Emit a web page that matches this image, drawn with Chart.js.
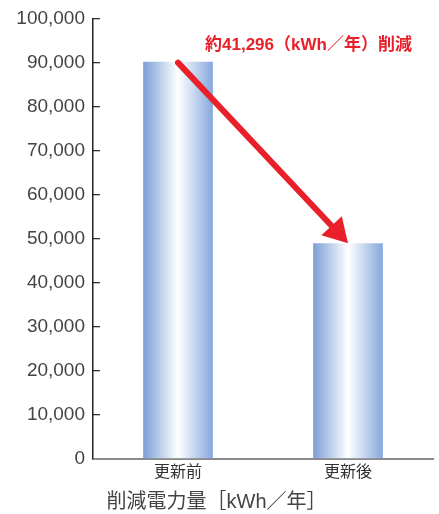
<!DOCTYPE html>
<html lang="ja">
<head>
<meta charset="utf-8">
<script src="https://cdn.jsdelivr.net/npm/chart.js@4/dist/chart.umd.min.js"></script>
<style>
    html, body { margin: 0; padding: 0; background: #fff; }
    #wrap { width: 439px; height: 514px; position: relative; }
</style>
</head>
<body>
<div id="wrap"><canvas id="savingChart"></canvas></div>
<script>
// --- Data ---
const categories = ['更新前', '更新後'];
const powerValues = [90300, 49004];     // kWh/年
const savedLabel = '約41,296（kWh／年）削減';
const axisTitle = '削減電力量［kWh／年］';
const yMax = 100000;
const yStep = 10000;

const FONT = "'Liberation Sans', 'Noto Sans CJK JP', sans-serif";
const BAR_PCT = 0.82;
const CAT_PCT = 0.5;

// bars get a horizontal blue -> white -> blue shine
function barGradient(ctx) {
    const chart = ctx.chart;
    const xScale = chart.scales.x;
    if (!xScale || ctx.dataIndex === undefined) return '#9ab6e2';
    const cx = xScale.getPixelForValue(ctx.dataIndex);
    const half = xScale.width / categories.length * BAR_PCT * CAT_PCT / 2;
    if (!isFinite(cx) || !isFinite(half) || half <= 0) return '#9ab6e2';
    const g = chart.ctx.createLinearGradient(cx - half, 0, cx + half, 0);
    g.addColorStop(0, '#7b9fd6');
    g.addColorStop(0.5, '#ffffff');
    g.addColorStop(1, '#85a8dc');
    return g;
}

// red arrow from the old value down to the new one, with the saving note
const arrowPlugin = {
    id: 'savingArrow',
    afterDatasetsDraw(chart) {
        const { ctx, scales: { x, y } } = chart;
        const x0 = x.getPixelForValue(0), y0 = y.getPixelForValue(powerValues[0]);
        const x1 = x.getPixelForValue(1), y1 = y.getPixelForValue(powerValues[1]);
        const ang = Math.atan2(y1 - y0, x1 - x0);
        const headLen = 24, headW = 14;
        const bx = x1 - headLen * Math.cos(ang), by = y1 - headLen * Math.sin(ang);

        ctx.save();
        ctx.strokeStyle = '#e8202a';
        ctx.fillStyle = '#e8202a';
        ctx.lineWidth = 6;
        ctx.lineCap = 'round';
        ctx.beginPath();
        ctx.moveTo(x0, y0 + 1);
        ctx.lineTo(bx + 3 * Math.cos(ang), by + 3 * Math.sin(ang));
        ctx.stroke();

        ctx.beginPath();
        ctx.moveTo(x1, y1);
        ctx.lineTo(bx + headW * Math.sin(ang), by - headW * Math.cos(ang));
        ctx.lineTo(bx - headW * Math.sin(ang), by + headW * Math.cos(ang));
        ctx.closePath();
        ctx.fill();

        // note above the arrow
        ctx.font = "bold 17px " + FONT;
        ctx.textAlign = 'left';
        ctx.textBaseline = 'middle';
        ctx.fillText(savedLabel, x0 + 27, y.getPixelForValue(yMax) + 26);
        ctx.restore();
    }
};

const ctx = document.getElementById('savingChart').getContext('2d');
new Chart(ctx, {
    type: 'bar',
    data: {
        labels: categories,
        datasets: [{
            data: powerValues,
            backgroundColor: barGradient,
            borderWidth: 0,
            barPercentage: BAR_PCT,
            categoryPercentage: CAT_PCT
        }]
    },
    options: {
        responsive: true,
        maintainAspectRatio: false,
        animation: false,
        layout: { padding: { top: 0, right: 6, left: 0, bottom: 0 } },
        plugins: {
            legend: { display: false },
            tooltip: { enabled: false },
            title: {
                display: true,
                text: axisTitle,
                position: 'bottom',
                color: '#444',
                font: { family: FONT, size: 20, weight: 'normal' },
                padding: { top: 4, bottom: 0 }
            }
        },
        scales: {
            x: {
                grid: { display: false, drawTicks: false },
                border: { color: '#8a8a8a', width: 2 },
                ticks: {
                    color: '#333',
                    padding: 4,
                    font: { family: FONT, size: 16 }
                }
            },
            y: {
                min: 0,
                max: yMax,
                afterFit(scale) { scale.width = 93; },
                grid: {
                    drawOnChartArea: false,
                    drawTicks: true,
                    tickLength: -7,   // negative = ticks point into the plot
                    color: '#333',
                    lineWidth: 1.3
                },
                border: { color: '#222', width: 1.5 },
                ticks: {
                    stepSize: yStep,
                    color: '#444',
                    padding: 15,
                    // small line height keeps the top label from pushing the plot down
                    font: { family: FONT, size: 19, lineHeight: 0.42 },
                    callback: v => v.toLocaleString('en-US')
                }
            }
        }
    },
    plugins: [arrowPlugin]
});
</script>
</body>
</html>
